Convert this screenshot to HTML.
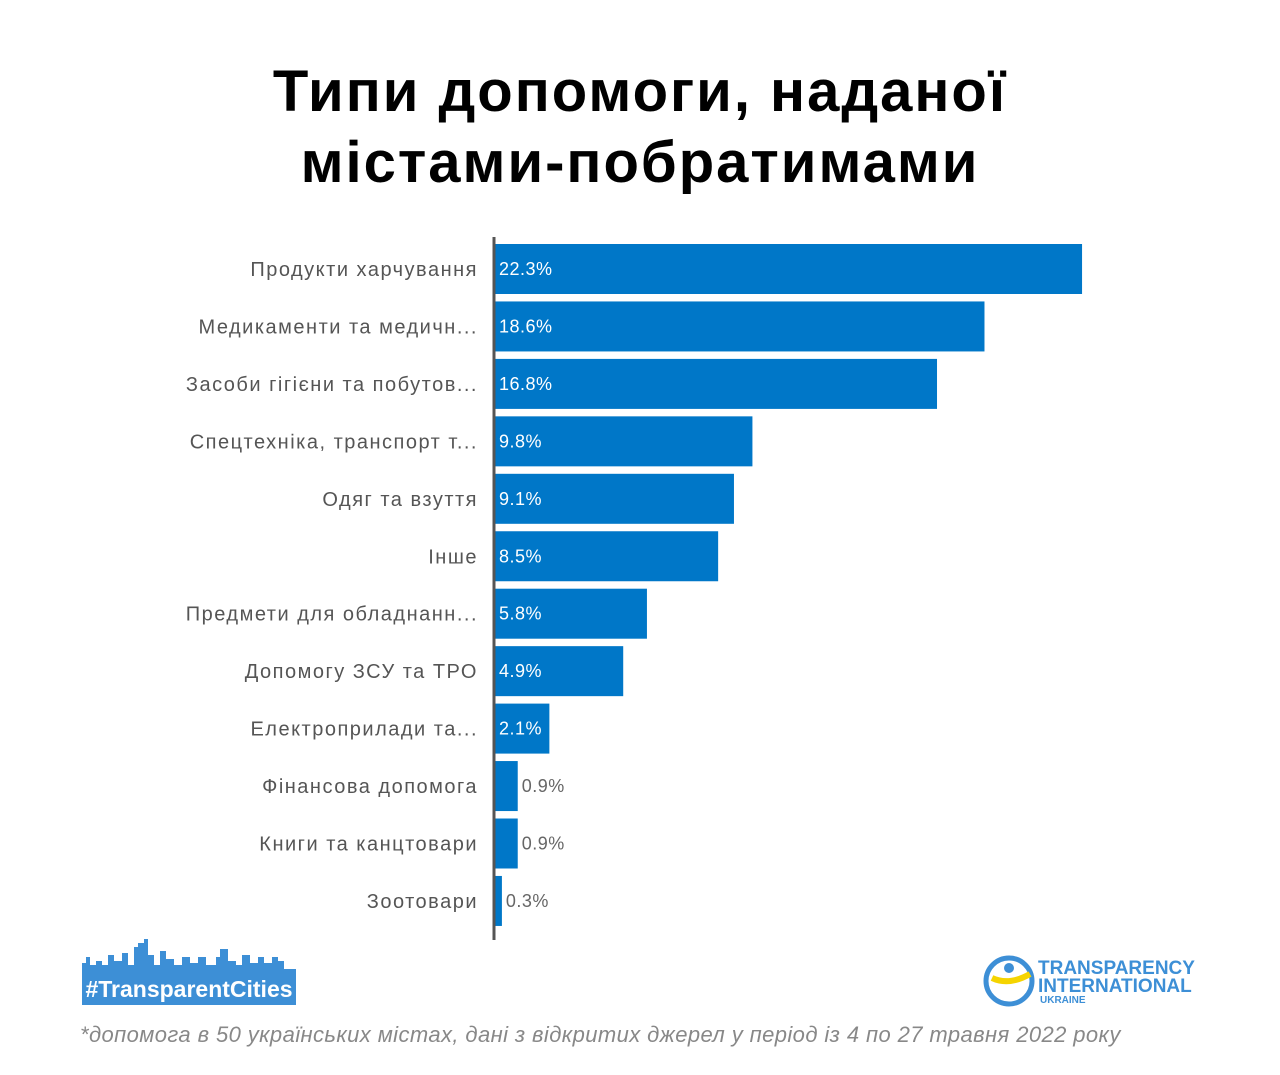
<!DOCTYPE html>
<html><head><meta charset="utf-8"><style>
body{margin:0;background:#fff;width:1280px;height:1075px;overflow:hidden;font-family:"Liberation Sans",sans-serif;}
#title{position:absolute;left:0;top:56px;width:1280px;text-align:center;font-weight:900;font-size:58px;line-height:71px;color:#000;letter-spacing:2px;}
#foot{position:absolute;left:80px;top:1022px;font-style:italic;font-size:22px;letter-spacing:0.4px;color:#888;}
</style></head><body>
<div id="title">Типи допомоги, наданої<br>містами-побратимами</div>
<svg id="chart" width="1280" height="1075" style="position:absolute;left:0;top:0"></svg>
<svg width="230" height="75" style="position:absolute;left:78px;top:935px">
<polygon fill="#3d8fd6" points="4,40 4,28 8,28 8,22 12,22 12,30 18,30 18,26 24,26 24,30 30,30 30,20 36,20 36,26 44,26 44,18 50,18 50,30 56,30 56,12 60,12 60,8 66,8 66,4 70,4 70,20 76,20 76,30 82,30 82,16 88,16 88,24 96,24 96,30 104,30 104,22 112,22 112,28 120,28 120,22 128,22 128,30 138,30 138,22 142,22 142,14 150,14 150,26 158,26 158,30 164,30 164,20 172,20 172,28 180,28 180,22 186,22 186,28 194,28 194,22 200,22 200,26 206,26 206,34 218,34 218,40 218,70 4,70"/>
<text x="111" y="62" text-anchor="middle" font-family="Liberation Sans" font-weight="bold" font-size="23" fill="#fff">#TransparentCities</text>
</svg>
<svg width="220" height="65" style="position:absolute;left:982px;top:948px">
<circle cx="27" cy="33" r="23" fill="none" stroke="#3d8fd6" stroke-width="5"/>
<path d="M10,30 Q27,38 48,26" stroke="#f5d400" stroke-width="6" fill="none"/>
<circle cx="27" cy="20" r="5" fill="#3d8fd6"/>
<text x="56" y="26" font-family="Liberation Sans" font-weight="bold" font-size="19" fill="#3d8fd6">TRANSPARENCY</text>
<text x="56" y="44" font-family="Liberation Sans" font-weight="bold" font-size="19" fill="#3d8fd6">INTERNATIONAL</text>
<text x="58" y="55" font-family="Liberation Sans" font-weight="bold" font-size="10" fill="#3d8fd6">UKRAINE</text>
</svg>
<div id="foot">*допомога в 50 українських містах, дані з відкритих джерел у період із 4 по 27 травня 2022 року</div>
<script>
const categories=["Продукти харчування","Медикаменти та медичн...","Засоби гігієни та побутов...","Спецтехніка, транспорт т...","Одяг та взуття","Інше","Предмети для обладнанн...","Допомогу ЗСУ та ТРО","Електроприлади та...","Фінансова допомога","Книги та канцтовари","Зоотовари"];
const values=[22.3,18.6,16.8,9.8,9.1,8.5,5.8,4.9,2.1,0.9,0.9,0.3];
const valueLabels=["22.3%","18.6%","16.8%","9.8%","9.1%","8.5%","5.8%","4.9%","2.1%","0.9%","0.9%","0.3%"];
const NS="http://www.w3.org/2000/svg";
const svg=document.getElementById('chart');
const x0=494, pxPer=26.37;
const x=v=>x0+v*pxPer;
const yc=i=>269+i*57.45;
function mk(t,a){const e=document.createElementNS(NS,t);for(const k in a)e.setAttribute(k,a[k]);svg.appendChild(e);return e;}
categories.forEach((c,i)=>{
 const r=mk('rect',{x:x0,y:yc(i)-25,width:x(values[i])-x0,height:50,fill:'#0077c8'});
 
 
 const l=mk('text',{x:478,y:yc(i)+7,'text-anchor':'end','font-size':20,'letter-spacing':1.5,fill:'#555','font-family':'Liberation Sans'});
 l.textContent=c;
 
 
 const w=x(values[i])-x0, inside=w>50;
 const v=mk('text',{x:inside?x0+5:x(values[i])+4,y:yc(i)+6,'font-size':18,'letter-spacing':0.5,fill:inside?'#fff':'#666','font-family':'Liberation Sans'});
 v.textContent=valueLabels[i];
 
 
});
const ax=mk('line',{x1:x0,x2:x0,y1:237,y2:940,stroke:'#555','stroke-width':3});


</script>
</body></html>
